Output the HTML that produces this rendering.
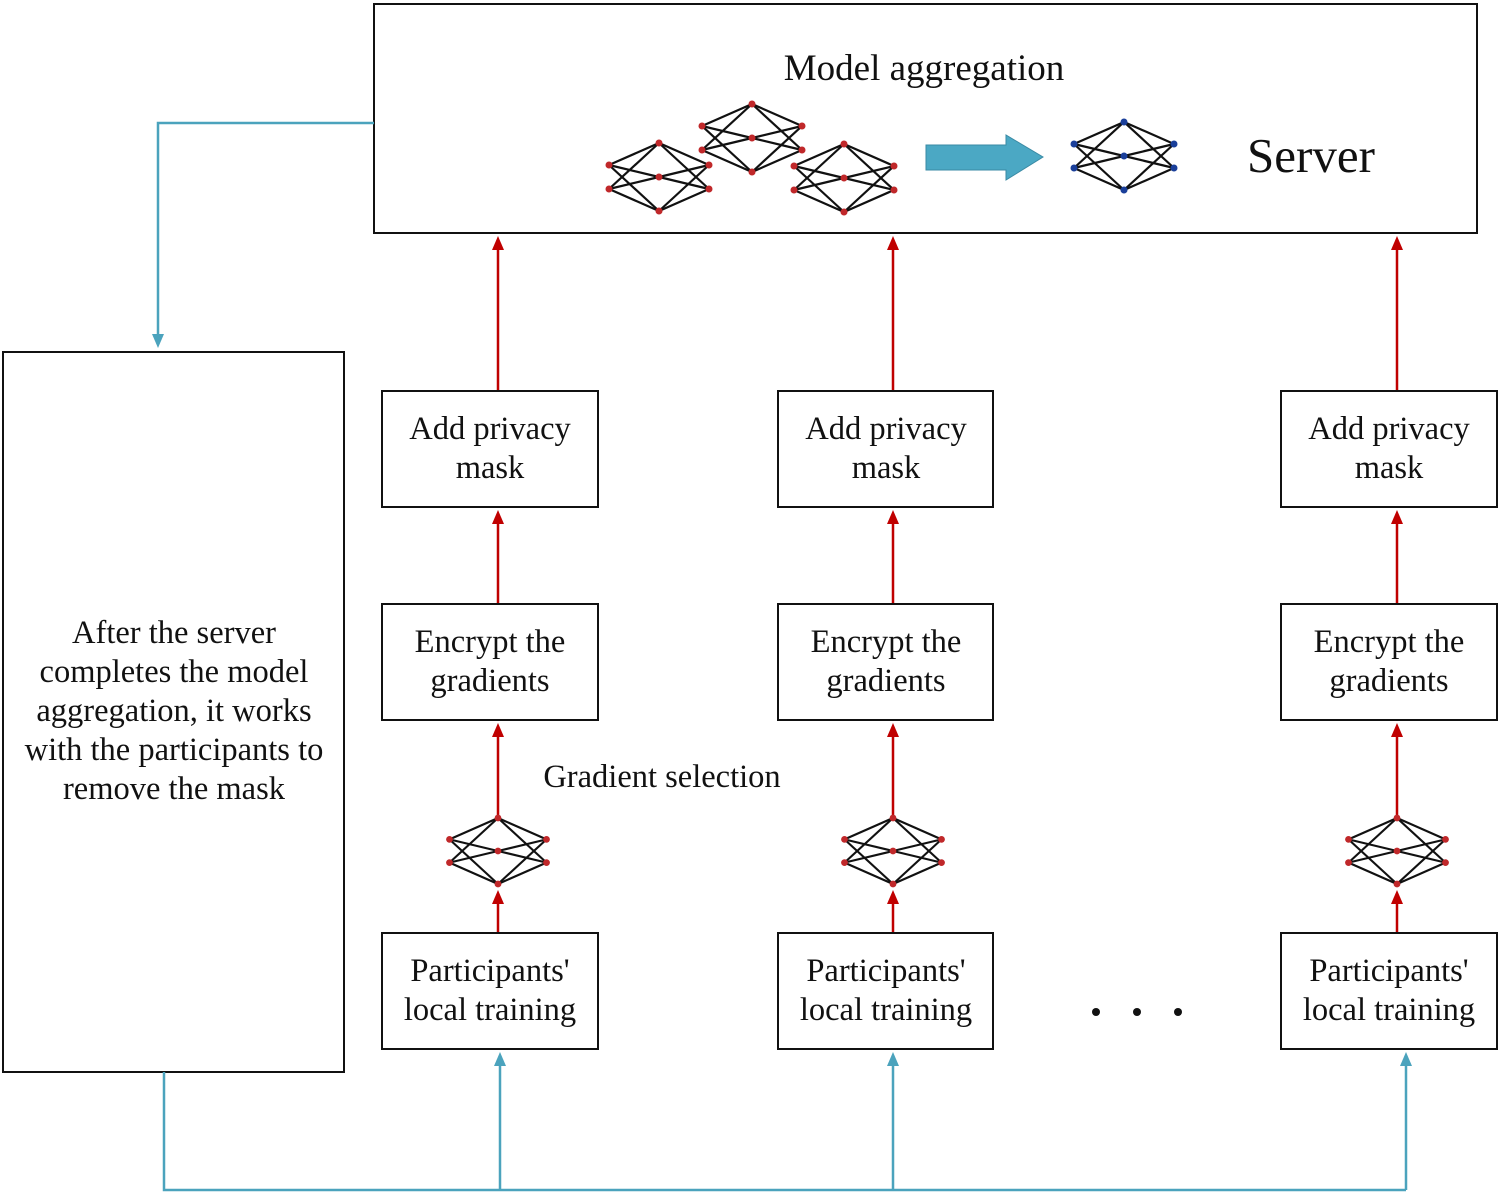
<!DOCTYPE html>
<html><head><style>
body{margin:0;background:#fff;}
svg text{font-family:"Liberation Serif",serif;fill:#111;}
</style></head><body>
<svg width="1500" height="1196" viewBox="0 0 1500 1196" xmlns="http://www.w3.org/2000/svg">
<defs>
<g id="nn">
<g stroke="#111" stroke-width="2.2">
<line x1="0" y1="-34" x2="-50" y2="-12"/><line x1="0" y1="-34" x2="-50" y2="12"/><line x1="0" y1="-34" x2="50" y2="-12"/><line x1="0" y1="-34" x2="50" y2="12"/>
<line x1="0" y1="34" x2="-50" y2="-12"/><line x1="0" y1="34" x2="-50" y2="12"/><line x1="0" y1="34" x2="50" y2="-12"/><line x1="0" y1="34" x2="50" y2="12"/>
<line x1="0" y1="0" x2="-50" y2="-12"/><line x1="0" y1="0" x2="-50" y2="12"/><line x1="0" y1="0" x2="50" y2="-12"/><line x1="0" y1="0" x2="50" y2="12"/>
</g>
</g>
<g id="dots"><circle cx="0" cy="-34" r="3.5"/><circle cx="0" cy="34" r="3.5"/><circle cx="0" cy="0" r="3.5"/><circle cx="-50" cy="-12" r="3.5"/><circle cx="-50" cy="12" r="3.5"/><circle cx="50" cy="-12" r="3.5"/><circle cx="50" cy="12" r="3.5"/></g>
<path id="rh" d="M-6,14 L0,0 L6,14 Z" fill="#c00000"/>
<path id="th" d="M-6,14 L0,0 L6,14 Z" fill="#4ba3bd"/>
</defs>
<g fill="none" stroke="#111" stroke-width="2">
<rect x="374" y="4" width="1103" height="229"/>
<rect x="3" y="352" width="341" height="720"/>
<rect x="382" y="391" width="216" height="116"/><rect x="778" y="391" width="215" height="116"/><rect x="1281" y="391" width="216" height="116"/>
<rect x="382" y="604" width="216" height="116"/><rect x="778" y="604" width="215" height="116"/><rect x="1281" y="604" width="216" height="116"/>
<rect x="382" y="933" width="216" height="116"/><rect x="778" y="933" width="215" height="116"/><rect x="1281" y="933" width="216" height="116"/>
</g>
<g stroke="#c00000" stroke-width="2.5">
<line x1="498" y1="390" x2="498" y2="245"/><line x1="893" y1="390" x2="893" y2="245"/><line x1="1397" y1="390" x2="1397" y2="245"/>
<line x1="498" y1="603" x2="498" y2="520"/><line x1="893" y1="603" x2="893" y2="520"/><line x1="1397" y1="603" x2="1397" y2="520"/>
<line x1="498" y1="817" x2="498" y2="733"/><line x1="893" y1="817" x2="893" y2="733"/><line x1="1397" y1="817" x2="1397" y2="733"/>
<line x1="498" y1="932" x2="498" y2="898"/><line x1="893" y1="932" x2="893" y2="898"/><line x1="1397" y1="932" x2="1397" y2="898"/>
</g>
<g>
<use href="#rh" x="498" y="236"/><use href="#rh" x="893" y="236"/><use href="#rh" x="1397" y="236"/>
<use href="#rh" x="498" y="510"/><use href="#rh" x="893" y="510"/><use href="#rh" x="1397" y="510"/>
<use href="#rh" x="498" y="723"/><use href="#rh" x="893" y="723"/><use href="#rh" x="1397" y="723"/>
<use href="#rh" x="498" y="890"/><use href="#rh" x="893" y="890"/><use href="#rh" x="1397" y="890"/>
</g>
<g fill="none" stroke="#4ba3bd" stroke-width="2.5">
<polyline points="374,123 158,123 158,336"/>
<polyline points="164,1072 164,1190 1406,1190"/>
<line x1="500" y1="1190" x2="500" y2="1062"/>
<line x1="893" y1="1190" x2="893" y2="1062"/>
<line x1="1406" y1="1190" x2="1406" y2="1062"/>
</g>
<path d="M152,334 L158,348 L164,334 Z" fill="#4ba3bd"/>
<use href="#th" x="500" y="1052"/><use href="#th" x="893" y="1052"/><use href="#th" x="1406" y="1052"/>
<use href="#nn" transform="translate(659,177)"/>
<use href="#nn" transform="translate(752,138)"/>
<use href="#nn" transform="translate(844,178)"/>
<use href="#nn" transform="translate(498,851) scale(0.97)"/>
<use href="#nn" transform="translate(893,851) scale(0.97)"/>
<use href="#nn" transform="translate(1397,851) scale(0.97)"/>
<use href="#nn" transform="translate(1124,156)"/>
<g fill="#c0282a">
<use href="#dots" transform="translate(659,177)"/>
<use href="#dots" transform="translate(752,138)"/>
<use href="#dots" transform="translate(844,178)"/>
<use href="#dots" transform="translate(498,851) scale(0.97)"/>
<use href="#dots" transform="translate(893,851) scale(0.97)"/>
<use href="#dots" transform="translate(1397,851) scale(0.97)"/>
</g>
<g fill="#1a3f9a"><use href="#dots" transform="translate(1124,156)"/></g>
<path d="M926,145 L1006,145 L1006,135 L1043,157 L1006,180 L1006,170 L926,170 Z" fill="#4ba8c4" stroke="#3a8aa4" stroke-width="1"/>
<g font-size="32.5" text-anchor="middle">
<text x="924" y="80" font-size="37">Model aggregation</text>
<text x="1311" y="172" font-size="49">Server</text>
<text x="490" y="439">Add privacy</text><text x="490" y="478">mask</text>
<text x="886" y="439">Add privacy</text><text x="886" y="478">mask</text>
<text x="1389" y="439">Add privacy</text><text x="1389" y="478">mask</text>
<text x="490" y="652">Encrypt the</text><text x="490" y="691">gradients</text>
<text x="886" y="652">Encrypt the</text><text x="886" y="691">gradients</text>
<text x="1389" y="652">Encrypt the</text><text x="1389" y="691">gradients</text>
<text x="490" y="981">Participants'</text><text x="490" y="1020">local training</text>
<text x="886" y="981">Participants'</text><text x="886" y="1020">local training</text>
<text x="1389" y="981">Participants'</text><text x="1389" y="1020">local training</text>
<text x="662" y="787">Gradient selection</text>
<text x="174" y="643">After the server</text>
<text x="174" y="682">completes the model</text>
<text x="174" y="721">aggregation, it works</text>
<text x="174" y="760">with the participants to</text>
<text x="174" y="799">remove the mask</text>
</g>
<g fill="#111"><circle cx="1096" cy="1012" r="4"/><circle cx="1137" cy="1012" r="4"/><circle cx="1178" cy="1012" r="4"/></g>
</svg>
</body></html>
